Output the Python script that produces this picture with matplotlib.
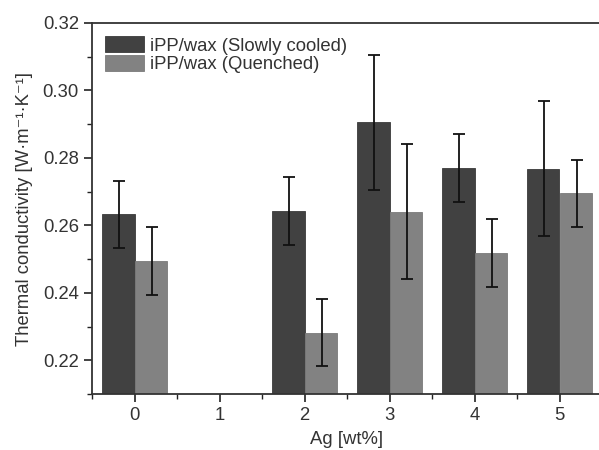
import numpy as np
import matplotlib
matplotlib.use("Agg")
import matplotlib.pyplot as plt
from matplotlib.ticker import MultipleLocator

plt.rcParams['font.family'] = ['Liberation Sans', 'DejaVu Sans']

ag = [0, 1, 2, 3, 4, 5]
slow = [0.2633, np.nan, 0.2643, 0.2905, 0.2770, 0.2768]
slow_err = [0.010, np.nan, 0.010, 0.020, 0.010, 0.020]
quench = [0.2495, np.nan, 0.2282, 0.2640, 0.2518, 0.2695]
quench_err = [0.010, np.nan, 0.010, 0.020, 0.010, 0.010]
labels = ["iPP/wax (Slowly cooled)", "iPP/wax (Quenched)"]

fig = plt.figure(figsize=(5.99, 4.5), dpi=100)
ax = fig.add_axes([92/599, 1-394/450, (602-92)/599, (394-23)/450])

x = np.array(ag, dtype=float)
w = 0.38
tc = '#333333'
fs = 13.3
ax.bar(x - w/2, slow, width=w, color='#414141', edgecolor='#3a3a3a', linewidth=0.6, label=labels[0], zorder=2)
ax.bar(x + w/2, quench, width=w, color='#828282', edgecolor='#7a7a7a', linewidth=0.6, label=labels[1], zorder=2)
ax.errorbar(x - w/2 + 0.01, slow, yerr=slow_err, fmt='none', ecolor='#111111', elinewidth=1.3, capsize=4, capthick=1.3, zorder=3)
ax.errorbar(x + w/2 + 0.01, quench, yerr=quench_err, fmt='none', ecolor='#111111', elinewidth=1.3, capsize=4, capthick=1.3, zorder=3)

ax.set_xlim(-0.5, 5.5)
ax.set_ylim(0.21, 0.32)
ax.set_xticks(ag)
ax.xaxis.set_minor_locator(MultipleLocator(0.5))
ax.yaxis.set_major_locator(MultipleLocator(0.02))
ax.yaxis.set_minor_locator(MultipleLocator(0.01))
ax.yaxis.set_major_formatter(matplotlib.ticker.FormatStrFormatter('%.2f'))
ax.tick_params(which='major', direction='out', length=6, width=1.2, labelsize=fs, colors='#222222', labelcolor=tc)
ax.tick_params(which='minor', direction='out', length=3.5, width=1.0, colors='#222222')
ax.tick_params(top=False, right=False, which='both')
for s in ['left', 'bottom', 'top', 'right']:
    ax.spines[s].set_linewidth(1.3)
    ax.spines[s].set_color('#333333')

ax.set_xlabel("Ag [wt%]", fontsize=fs, color=tc, labelpad=5)
ax.set_ylabel("Thermal conductivity [W·m⁻¹·K⁻¹]", fontsize=fs, color=tc, labelpad=7)

leg = ax.legend(loc='upper left', frameon=False, fontsize=fs, handlelength=2.1, handleheight=1.0,
                handletextpad=0.35, labelspacing=0.0, borderaxespad=0.3, labelcolor=tc)

fig.savefig("out.png", dpi=100)
